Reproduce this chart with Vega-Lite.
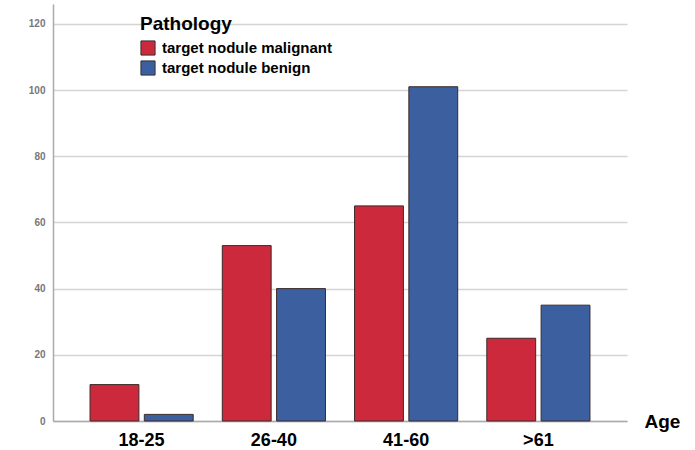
{
  "$schema": "https://vega.github.io/schema/vega-lite/v6.json",
  "width": 574,
  "height": 417,
  "autosize": {"type": "none"},
  "padding": {"left": 53, "top": 4, "right": 68, "bottom": 29},
  "background": "white",
  "data": {
    "values": [
      {"age": "18-25", "pathology": "target nodule malignant", "count": 11},
      {"age": "18-25", "pathology": "target nodule benign", "count": 2},
      {"age": "26-40", "pathology": "target nodule malignant", "count": 53},
      {"age": "26-40", "pathology": "target nodule benign", "count": 40},
      {"age": "41-60", "pathology": "target nodule malignant", "count": 65},
      {"age": "41-60", "pathology": "target nodule benign", "count": 101},
      {"age": ">61", "pathology": "target nodule malignant", "count": 25},
      {"age": ">61", "pathology": "target nodule benign", "count": 35}
    ]
  },
  "mark": {"type": "bar", "stroke": "#3a2a2a", "strokeWidth": 1},
  "encoding": {
    "x": {
      "field": "age",
      "type": "nominal",
      "sort": ["18-25", "26-40", "41-60", ">61"],
      "scale": {"paddingInner": 0.22, "paddingOuter": 0.28},
      "axis": {
        "title": "Age",
        "titleFont": "Liberation Sans",
        "titleFontSize": 19,
        "titleFontWeight": "bold",
        "titleColor": "#000",
        "titleX": 609,
        "titleY": 0,
        "titleBaseline": "middle",
        "titleAlign": "center",
        "labelAngle": 0,
        "labelFont": "Liberation Sans",
        "labelFontSize": 18,
        "labelFontWeight": "bold",
        "labelColor": "#000",
        "labelPadding": 10,
        "ticks": false,
        "domainColor": "#aaaaaa",
        "domainWidth": 1.5
      }
    },
    "xOffset": {
      "field": "pathology",
      "type": "nominal",
      "sort": ["target nodule malignant", "target nodule benign"],
      "scale": {"paddingInner": 0.1}
    },
    "y": {
      "field": "count",
      "type": "quantitative",
      "scale": {"domain": [0, 126], "nice": false},
      "axis": {
        "title": null,
        "values": [0, 20, 40, 60, 80, 100, 120],
        "labelFont": "Liberation Sans",
        "labelFontSize": 10,
        "labelFontWeight": "bold",
        "labelColor": "#777777",
        "labelPadding": 8,
        "ticks": false,
        "domainColor": "#aaaaaa",
        "domainWidth": 1.5,
        "grid": true,
        "gridColor": "#d4d4d4",
        "gridWidth": 1.5
      }
    },
    "color": {
      "field": "pathology",
      "type": "nominal",
      "sort": ["target nodule malignant", "target nodule benign"],
      "scale": {"range": ["#cc2a3c", "#3c5fa0"]},
      "legend": {
        "title": "Pathology",
        "orient": "none",
        "legendX": 87,
        "legendY": 11,
        "titleFont": "Liberation Sans",
        "titleFontSize": 19,
        "titleFontWeight": "bold",
        "titleColor": "#000",
        "titlePadding": 6,
        "labelFont": "Liberation Sans",
        "labelFontSize": 15,
        "labelFontWeight": "bold",
        "labelColor": "#000",
        "labelLimit": 0,
        "symbolType": "square",
        "symbolSize": 200,
        "symbolStrokeColor": "#333",
        "symbolStrokeWidth": 1,
        "rowPadding": 0,
        "labelOffset": 6
      }
    }
  },
  "config": {"view": {"stroke": null}}
}
